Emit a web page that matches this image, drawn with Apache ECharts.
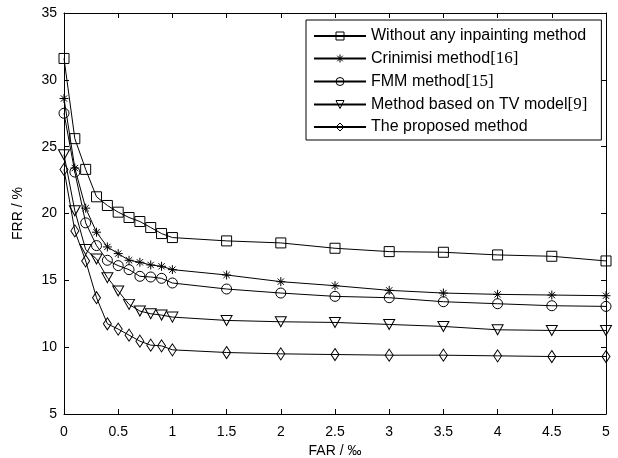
<!DOCTYPE html>
<html>
<head>
<meta charset="utf-8">
<script src="https://cdn.jsdelivr.net/npm/echarts@6/dist/echarts.min.js"></script>
<style>
html,body{margin:0;padding:0;background:#fff;}
#c{width:618px;height:458px;}
</style>
</head>
<body>
<div id="c"></div>
<script>
// FAR values (x, ‰)
const farValues = [0, 0.1, 0.2, 0.3, 0.4, 0.5, 0.6, 0.7, 0.8, 0.9, 1.0, 1.5, 2.0, 2.5, 3.0, 3.5, 4.0, 4.5, 5.0];
// FRR values (y, %)
const withoutInpainting = [31.6, 25.6, 23.3, 21.25, 20.6, 20.1, 19.7, 19.4, 18.95, 18.5, 18.2, 17.95, 17.8, 17.4, 17.15, 17.1, 16.9, 16.8, 16.45];
const crinimisi = [28.6, 23.4, 20.4, 18.6, 17.5, 17.0, 16.5, 16.35, 16.15, 16.05, 15.8, 15.4, 14.9, 14.6, 14.25, 14.05, 13.95, 13.9, 13.85];
const fmm = [27.5, 23.1, 19.3, 17.6, 16.5, 16.1, 15.8, 15.3, 15.25, 15.15, 14.8, 14.35, 14.05, 13.8, 13.7, 13.4, 13.25, 13.1, 13.05];
const tvModel = [24.4, 20.2, 17.3, 16.6, 15.2, 14.2, 13.2, 12.7, 12.5, 12.4, 12.25, 12.0, 11.9, 11.85, 11.7, 11.55, 11.3, 11.25, 11.25];
const proposed = [23.3, 18.7, 16.45, 13.7, 11.75, 11.35, 10.9, 10.45, 10.15, 10.1, 9.8, 9.6, 9.5, 9.45, 9.4, 9.4, 9.35, 9.3, 9.3];

const seriesNames = ['Without any inpainting method', 'Crinimisi method[16]', 'FMM method[15]', 'Method based on TV model[9]', 'The proposed method'];
const xTicks = { min: 0, max: 5, interval: 0.5 };
const yTicks = { min: 5, max: 35, interval: 5 };

const starPath = 'path://M0,-1 L0,1 M-1,0 L1,0 M-0.7,-0.7 L0.7,0.7 M-0.7,0.7 L0.7,-0.7';
const markerDefs = [
  { symbol: 'rect', size: 10, rotate: 0 },
  { symbol: starPath, size: 9, rotate: 0 },
  { symbol: 'circle', size: 10, rotate: 0 },
  { symbol: 'triangle', size: [11, 10], rotate: 180 },
  { symbol: 'diamond', size: [8, 12], rotate: 0 }
];
const allValues = [withoutInpainting, crinimisi, fmm, tvModel, proposed];

const FONT = 'Liberation Sans, Arial, sans-serif';

const series = allValues.map((vals, i) => ({
  name: seriesNames[i],
  type: 'line',
  xAxisIndex: 0,
  yAxisIndex: 0,
  data: farValues.map((x, j) => [x, vals[j]]),
  symbol: markerDefs[i].symbol,
  symbolSize: markerDefs[i].size,
  symbolRotate: markerDefs[i].rotate,
  showAllSymbol: true,
  lineStyle: { color: '#000', width: 1 },
  itemStyle: { color: 'rgba(255,255,255,0)', borderColor: '#000', borderWidth: 1 },
  emphasis: { disabled: true },
  animation: false,
  z: 3 + i
}));

function axisCommon(extra) {
  return Object.assign({
    type: 'value',
    axisLine: { show: true, onZero: false, lineStyle: { color: '#000', width: 1 } },
    axisTick: { show: true, inside: true, length: 5, lineStyle: { color: '#000', width: 1 } },
    splitLine: { show: false }
  }, extra);
}

const option = {
  backgroundColor: '#fff',
  animation: false,
  grid: { left: 64, right: 12, top: 13, bottom: 44, outerBoundsMode: 'none', containLabel: false },
  xAxis: [
    axisCommon({
      position: 'bottom', min: xTicks.min, max: xTicks.max, interval: xTicks.interval,
      name: 'FAR / ‰', nameLocation: 'middle', nameGap: 29,
      nameTextStyle: { color: '#000', fontSize: 14, fontFamily: FONT },
      axisLabel: { color: '#000', fontSize: 14, fontFamily: FONT, margin: 11 }
    }),
    axisCommon({
      position: 'top', min: xTicks.min, max: xTicks.max, interval: xTicks.interval,
      axisLabel: { show: false }
    })
  ],
  yAxis: [
    axisCommon({
      position: 'left', min: yTicks.min, max: yTicks.max, interval: yTicks.interval,
      name: 'FRR / %', nameLocation: 'middle', nameGap: 39, nameRotate: 90,
      nameTextStyle: { color: '#000', fontSize: 14, fontFamily: FONT },
      axisLabel: { color: '#000', fontSize: 14, fontFamily: FONT, margin: 7 }
    }),
    axisCommon({
      position: 'right', min: yTicks.min, max: yTicks.max, interval: yTicks.interval,
      axisLabel: { show: false }
    })
  ],
  legend: {
    orient: 'vertical',
    left: 306,
    top: 20,
    padding: [8, 14, 5, 7],
    itemWidth: 52,
    itemHeight: 10,
    itemGap: 6,
    backgroundColor: '#fff',
    borderColor: '#000',
    borderWidth: 1,
    borderRadius: 0,
    selectedMode: false,
    itemStyle: { borderWidth: 1, borderColor: '#000', color: 'rgba(255,255,255,0)' },
    data: seriesNames,
    formatter: function (name) {
      return name.replace(/(\[\d+\])/, '{s|$1}');
    },
    textStyle: {
      color: '#000', fontSize: 16, fontFamily: FONT, lineHeight: 16,
      rich: { s: { color: '#000', fontSize: 17, lineHeight: 16, fontFamily: 'Liberation Serif, Times New Roman, serif' } }
    }
  },
  series: series
};

const chart = echarts.init(document.getElementById('c'), null, { renderer: 'canvas' });
chart.setOption(option);
</script>
</body>
</html>
